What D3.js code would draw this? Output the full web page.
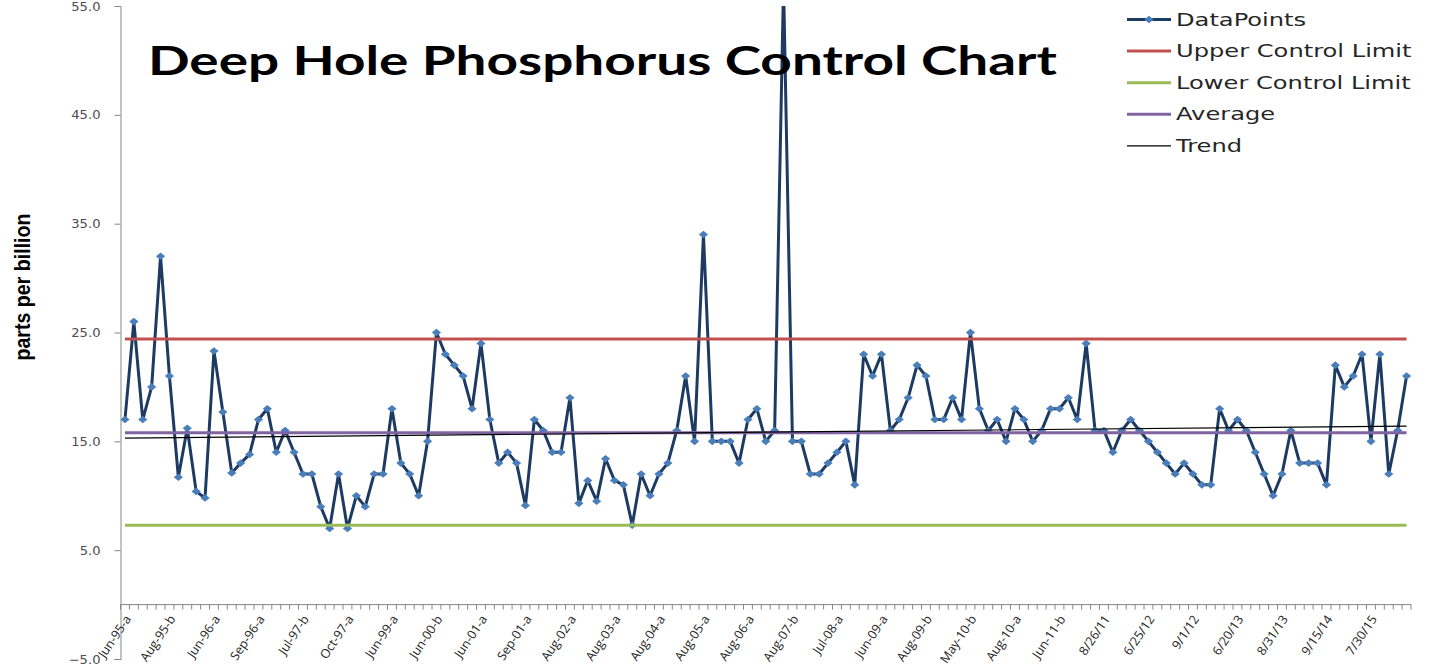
<!DOCTYPE html>
<html>
<head>
<meta charset="utf-8">
<script src="https://cdn.jsdelivr.net/npm/d3@7/dist/d3.min.js"></script>
<style>
  body { margin: 0; background: #fff; }
  svg { display: block; }
</style>
</head>
<body>
<div id="chart"></div>
<script>
// phosphorus readings, one per sampling event (ppb)
var values = [
    17, 26, 17, 20, 32, 21, 11.7, 16.2, 10.4, 9.8,
    23.3, 17.7, 12.1, 13, 13.8, 17, 18, 14, 16, 14,
    12, 12, 9, 7, 12, 7, 10, 9, 12, 12,
    18, 13, 12, 10, 15, 25, 23, 22, 21, 18,
    24, 17, 13, 14, 13, 9.1, 17, 16, 14, 14,
    19, 9.3, 11.4, 9.5, 13.4, 11.4, 11, 7.3, 12, 10,
    12, 13, 16, 21, 15, 34, 15, 15, 15, 13,
    17, 18, 15, 16, 57, 15, 15, 12, 12, 13,
    14, 15, 11, 23, 21, 23, 16, 17, 19, 22,
    21, 17, 17, 19, 17, 25, 18, 16, 17, 15,
    18, 17, 15, 16, 18, 18, 19, 17, 24, 16,
    16, 14, 16, 17, 16, 15, 14, 13, 12, 13,
    12, 11, 11, 18, 16, 17, 16, 14, 12, 10,
    12, 16, 13, 13, 13, 11, 22, 20, 21, 23,
    15, 23, 12, 16, 21
];

// only every 5th sampling event carries a label on the axis
var tickLabels = [
    "Jun-95-a", "Aug-95-b", "Jun-96-a", "Sep-96-a", "Jul-97-b", "Oct-97-a",
    "Jun-99-a", "Jun-00-b", "Jun-01-a", "Sep-01-a", "Aug-02-a", "Aug-03-a",
    "Aug-04-a", "Aug-05-a", "Aug-06-a", "Aug-07-b", "Jul-08-a", "Jun-09-a",
    "Aug-09-b", "May-10-b", "Aug-10-a", "Jun-11-b", "8/26/11", "6/25/12",
    "9/1/12", "6/20/13", "8/31/13", "9/15/14", "7/30/15"
];
var labelEvery = 5;

var upperLimit = 24.4;
var lowerLimit = 7.3;
var averageValue = 15.8;
var trendEnds = [15.3, 16.4];

var yTicks = [-5, 5, 15, 25, 35, 45, 55];

var seriesNames = ["DataPoints", "Upper Control Limit", "Lower Control Limit", "Average", "Trend"];
var seriesColors = ["#1d3b62", "#c0504d", "#9bbb59", "#8064a2", "#000000"];
var markerColor = "#4a7ebb";

var width = 1430, height = 667;
var plot = { left: 120.5, right: 1411, top: 6, bottom: 659 };

var svg = d3.select("#chart")
    .append("svg")
    .attr("width", width)
    .attr("height", height);

var x = d3.scaleBand()
    .domain(d3.range(values.length))
    .range([plot.left, plot.right]);

var y = d3.scaleLinear()
    .domain([-5, 55])
    .range([plot.bottom, plot.top]);

function cx(i) { return x(i) + x.bandwidth() / 2; }

// stretch text horizontally like the source image
function stretch(sel, k) {
    sel.each(function () {
        var len = this.getComputedTextLength();
        d3.select(this)
            .attr("textLength", len * k)
            .attr("lengthAdjust", "spacingAndGlyphs");
    });
}

svg.append("defs").append("clipPath")
    .attr("id", "plotClip")
    .append("rect")
    .attr("x", plot.left)
    .attr("y", plot.top)
    .attr("width", plot.right - plot.left + 10)
    .attr("height", plot.bottom - plot.top);

// y axis
var yAxis = svg.append("g")
    .attr("transform", "translate(" + plot.left + ",0)")
    .call(d3.axisLeft(y).tickValues(yTicks).tickSize(6).tickPadding(14).tickFormat(d3.format(".1f")));
yAxis.select(".domain").attr("stroke", "#868686");
yAxis.selectAll(".tick line").attr("stroke", "#868686");
yAxis.selectAll(".tick text")
    .attr("fill", "#4d4d4d")
    .style("font-family", "DejaVu Sans")
    .style("font-size", "12.5px")
    .call(stretch, 1.05);

// x axis at zero, one tick per category boundary
var xAxis = svg.append("g").attr("class", "x-axis");
xAxis.append("line")
    .attr("x1", plot.left).attr("x2", plot.right)
    .attr("y1", y(0)).attr("y2", y(0))
    .attr("stroke", "#868686");
xAxis.selectAll("line.tick")
    .data(d3.range(values.length + 1))
    .enter().append("line")
    .attr("class", "tick")
    .attr("x1", function (d) { return plot.left + d * x.bandwidth(); })
    .attr("x2", function (d) { return plot.left + d * x.bandwidth(); })
    .attr("y1", y(0))
    .attr("y2", y(0) + 5)
    .attr("stroke", "#868686");

xAxis.selectAll("text")
    .data(tickLabels)
    .enter().append("text")
    .attr("transform", function (d, i) {
        return "translate(" + (cx(i * labelEvery) + 3) + "," + (y(0) + 12) + ") rotate(-56)";
    })
    .attr("text-anchor", "end")
    .attr("dy", "0.35em")
    .attr("fill", "#262626")
    .style("font-family", "Open Sans")
    .style("font-size", "12.5px")
    .text(function (d) { return d; });

// series
var line = d3.line()
    .x(function (d, i) { return cx(i); })
    .y(function (d) { return y(d); });

var gData = svg.append("g").attr("clip-path", "url(#plotClip)");

gData.append("path")
    .datum(values)
    .attr("fill", "none")
    .attr("stroke", seriesColors[0])
    .attr("stroke-width", 3)
    .attr("stroke-linejoin", "round")
    .attr("d", line);

var diamond = "M0,-3.8L4.6,0L0,3.8L-4.6,0Z";

gData.selectAll("path.marker")
    .data(values)
    .enter().append("path")
    .attr("class", "marker")
    .attr("d", diamond)
    .attr("transform", function (d, i) { return "translate(" + cx(i) + "," + y(d) + ")"; })
    .attr("fill", markerColor);

var limitSeries = [
    values.map(function () { return upperLimit; }),
    values.map(function () { return lowerLimit; }),
    values.map(function () { return averageValue; })
];

limitSeries.forEach(function (s, k) {
    svg.append("path")
        .datum(s)
        .attr("fill", "none")
        .attr("stroke", seriesColors[k + 1])
        .attr("stroke-width", 3)
        .attr("d", line);
});

// linear trend from first to last sample
svg.append("line")
    .attr("x1", cx(0))
    .attr("x2", cx(values.length - 1))
    .attr("y1", y(trendEnds[0]))
    .attr("y2", y(trendEnds[1]))
    .attr("stroke", seriesColors[4])
    .attr("stroke-width", 1.2);

// title
svg.append("text")
    .attr("x", 148)
    .attr("y", 75)
    .attr("textLength", 909)
    .attr("lengthAdjust", "spacingAndGlyphs")
    .style("font-family", "Lato")
    .style("font-weight", "bold")
    .style("font-size", "40px")
    .attr("fill", "#000")
    .text("Deep Hole Phosphorus Control Chart");

// y axis title
svg.append("text")
    .attr("transform", "translate(30,287) rotate(-90)")
    .attr("text-anchor", "middle")
    .attr("textLength", 147)
    .attr("lengthAdjust", "spacingAndGlyphs")
    .style("font-family", "Liberation Sans Narrow, Liberation Sans")
    .style("font-weight", "bold")
    .style("font-size", "22px")
    .attr("fill", "#000")
    .text("parts per billion");

// legend
var legend = svg.selectAll("g.legend")
    .data(seriesNames)
    .enter().append("g")
    .attr("class", "legend")
    .attr("transform", function (d, i) { return "translate(1127," + (19.5 + i * 31.6) + ")"; });

legend.append("line")
    .attr("x1", 0).attr("x2", 44)
    .attr("stroke", function (d, i) { return seriesColors[i]; })
    .attr("stroke-width", function (d, i) { return i == 4 ? 1.2 : 3; });

legend.filter(function (d, i) { return i == 0; })
    .append("path")
    .attr("d", diamond)
    .attr("transform", "translate(22,0)")
    .attr("fill", markerColor);

legend.append("text")
    .attr("x", 49)
    .attr("dy", "0.36em")
    .attr("fill", "#262626")
    .style("font-family", "DejaVu Sans")
    .style("font-size", "17px")
    .text(function (d) { return d; })
    .call(stretch, 1.42);
</script>
</body>
</html>
